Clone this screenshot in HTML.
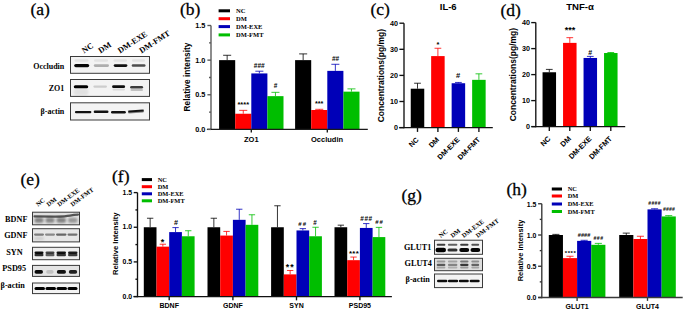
<!DOCTYPE html><html><head><meta charset="utf-8"><style>html,body{margin:0;padding:0;background:#fff;width:685px;height:311px;overflow:hidden}</style></head><body><svg width="685" height="311" viewBox="0 0 685 311" style="display:block">
<defs><filter id="bl" x="-20%" y="-50%" width="140%" height="200%"><feGaussianBlur stdDeviation="0.6"/></filter><filter id="bl2" x="-20%" y="-80%" width="140%" height="260%"><feGaussianBlur stdDeviation="1.0"/></filter></defs>
<rect width="685" height="311" fill="#fff"/>
<text x="30.5" y="15" font-size="17.5" font-family="Liberation Serif" text-anchor="start" stroke="#000" stroke-width="0.3">(a)</text>
<text x="180" y="15" font-size="17.5" font-family="Liberation Serif" text-anchor="start" stroke="#000" stroke-width="0.3">(b)</text>
<text x="370.5" y="15" font-size="17.5" font-family="Liberation Serif" text-anchor="start" stroke="#000" stroke-width="0.3">(c)</text>
<text x="500.5" y="15.5" font-size="17.5" font-family="Liberation Serif" text-anchor="start" stroke="#000" stroke-width="0.3">(d)</text>
<text x="20.5" y="185" font-size="17.5" font-family="Liberation Serif" text-anchor="start" stroke="#000" stroke-width="0.3">(e)</text>
<text x="112" y="182" font-size="17.5" font-family="Liberation Serif" text-anchor="start" stroke="#000" stroke-width="0.3">(f)</text>
<text x="401.5" y="201" font-size="17.5" font-family="Liberation Serif" text-anchor="start" stroke="#000" stroke-width="0.3">(g)</text>
<text x="506.5" y="195" font-size="17.5" font-family="Liberation Serif" text-anchor="start" stroke="#000" stroke-width="0.3">(h)</text>
<line x1="227.15" y1="55.28" x2="227.15" y2="60.13" stroke="#000000" stroke-width="0.8"/>
<line x1="223.12" y1="55.28" x2="231.18" y2="55.28" stroke="#000000" stroke-width="0.8"/>
<rect x="219.10" y="60.13" width="16.10" height="69.27" fill="#000000" />
<line x1="243.25" y1="110.35" x2="243.25" y2="113.74" stroke="#ff0000" stroke-width="0.8"/>
<line x1="239.22" y1="110.35" x2="247.28" y2="110.35" stroke="#ff0000" stroke-width="0.8"/>
<rect x="235.20" y="113.74" width="16.10" height="15.66" fill="#ff0000" />
<line x1="259.35" y1="71.21" x2="259.35" y2="73.43" stroke="#0000b8" stroke-width="0.8"/>
<line x1="255.33" y1="71.21" x2="263.38" y2="71.21" stroke="#0000b8" stroke-width="0.8"/>
<rect x="251.30" y="73.43" width="16.10" height="55.97" fill="#0000b8" />
<line x1="275.45" y1="92.34" x2="275.45" y2="96.15" stroke="#00be00" stroke-width="0.8"/>
<line x1="271.43" y1="92.34" x2="279.47" y2="92.34" stroke="#00be00" stroke-width="0.8"/>
<rect x="267.40" y="96.15" width="16.10" height="33.25" fill="#00be00" />
<line x1="303.15" y1="53.90" x2="303.15" y2="60.13" stroke="#000000" stroke-width="0.8"/>
<line x1="299.13" y1="53.90" x2="307.18" y2="53.90" stroke="#000000" stroke-width="0.8"/>
<rect x="295.10" y="60.13" width="16.10" height="69.27" fill="#000000" />
<line x1="319.25" y1="109.31" x2="319.25" y2="110.00" stroke="#ff0000" stroke-width="0.8"/>
<line x1="315.23" y1="109.31" x2="323.28" y2="109.31" stroke="#ff0000" stroke-width="0.8"/>
<rect x="311.20" y="110.00" width="16.10" height="19.40" fill="#ff0000" />
<line x1="335.35" y1="64.29" x2="335.35" y2="70.87" stroke="#0000b8" stroke-width="0.8"/>
<line x1="331.33" y1="64.29" x2="339.38" y2="64.29" stroke="#0000b8" stroke-width="0.8"/>
<rect x="327.30" y="70.87" width="16.10" height="58.53" fill="#0000b8" />
<line x1="351.45" y1="88.88" x2="351.45" y2="91.65" stroke="#00be00" stroke-width="0.8"/>
<line x1="347.43" y1="88.88" x2="355.48" y2="88.88" stroke="#00be00" stroke-width="0.8"/>
<rect x="343.40" y="91.65" width="16.10" height="37.75" fill="#00be00" />
<line x1="211.00" y1="25.50" x2="211.00" y2="130.08" stroke="#555" stroke-width="1.35"/>
<line x1="206.90" y1="129.40" x2="367.80" y2="129.40" stroke="#1a1a1a" stroke-width="1.35"/>
<line x1="207.40" y1="129.40" x2="211.00" y2="129.40" stroke="#555" stroke-width="1.35"/>
<text x="205.4" y="132.00" font-size="7.3" font-family="Liberation Sans" font-weight="bold" text-anchor="end" >0.0</text>
<line x1="207.40" y1="94.77" x2="211.00" y2="94.77" stroke="#555" stroke-width="1.35"/>
<text x="205.4" y="97.37" font-size="7.3" font-family="Liberation Sans" font-weight="bold" text-anchor="end" >0.5</text>
<line x1="207.40" y1="60.13" x2="211.00" y2="60.13" stroke="#555" stroke-width="1.35"/>
<text x="205.4" y="62.73" font-size="7.3" font-family="Liberation Sans" font-weight="bold" text-anchor="end" >1.0</text>
<line x1="207.40" y1="25.50" x2="211.00" y2="25.50" stroke="#555" stroke-width="1.35"/>
<text x="205.4" y="28.10" font-size="7.3" font-family="Liberation Sans" font-weight="bold" text-anchor="end" >1.5</text>
<line x1="209.02" y1="112.08" x2="211.00" y2="112.08" stroke="#555" stroke-width="1.35"/>
<line x1="209.02" y1="77.45" x2="211.00" y2="77.45" stroke="#555" stroke-width="1.35"/>
<line x1="209.02" y1="42.81" x2="211.00" y2="42.81" stroke="#555" stroke-width="1.35"/>
<line x1="251.30" y1="129.40" x2="251.30" y2="132.60" stroke="#1a1a1a" stroke-width="1.35"/>
<line x1="327.30" y1="129.40" x2="327.30" y2="132.60" stroke="#1a1a1a" stroke-width="1.35"/>
<text x="251.3" y="142" font-size="7.5" font-family="Liberation Sans" font-weight="bold" text-anchor="middle" >ZO1</text>
<text x="327.0" y="142" font-size="7.5" font-family="Liberation Sans" font-weight="bold" text-anchor="middle" >Occludin</text>
<text x="0" y="0" font-size="8.4" font-family="Liberation Sans" font-weight="bold" text-anchor="middle" transform="translate(189.5,77) rotate(-90)">Relative intensity</text>
<rect x="218.60" y="9.30" width="11.40" height="3.00" fill="#000000" />
<text x="236.1" y="13.10" font-size="6.5" font-family="Liberation Serif" font-weight="bold" text-anchor="start" >NC</text>
<rect x="218.60" y="17.20" width="11.40" height="3.00" fill="#ff0000" />
<text x="236.1" y="21.00" font-size="6.5" font-family="Liberation Serif" font-weight="bold" text-anchor="start" >DM</text>
<rect x="218.60" y="25.10" width="11.40" height="3.00" fill="#0000b8" />
<text x="236.1" y="28.90" font-size="6.5" font-family="Liberation Serif" font-weight="bold" text-anchor="start" >DM-EXE</text>
<rect x="218.60" y="33.40" width="11.40" height="3.00" fill="#00be00" />
<text x="236.1" y="37.20" font-size="6.5" font-family="Liberation Serif" font-weight="bold" text-anchor="start" >DM-FMT</text>
<text x="243.30" y="107.36" font-size="7.5" font-family="Liberation Sans" font-weight="bold" text-anchor="middle" >****</text>
<text x="259.30" y="67.50" font-size="6.5" font-family="Liberation Sans" font-weight="bold" text-anchor="middle" >###</text>
<text x="275.60" y="88.10" font-size="6.5" font-family="Liberation Sans" font-weight="bold" text-anchor="middle" >#</text>
<text x="319.20" y="105.61" font-size="7.2" font-family="Liberation Sans" font-weight="bold" text-anchor="middle" >***</text>
<text x="335.50" y="60.50" font-size="6.5" font-family="Liberation Sans" font-weight="bold" text-anchor="middle" >##</text>
<line x1="417.50" y1="83.23" x2="417.50" y2="88.71" stroke="#000000" stroke-width="0.8"/>
<line x1="414.12" y1="83.23" x2="420.88" y2="83.23" stroke="#000000" stroke-width="0.8"/>
<rect x="410.75" y="88.71" width="13.50" height="38.89" fill="#000000" />
<line x1="437.90" y1="48.26" x2="437.90" y2="56.09" stroke="#ff0000" stroke-width="0.8"/>
<line x1="434.52" y1="48.26" x2="441.27" y2="48.26" stroke="#ff0000" stroke-width="0.8"/>
<rect x="431.15" y="56.09" width="13.50" height="71.51" fill="#ff0000" />
<line x1="458.40" y1="82.45" x2="458.40" y2="83.23" stroke="#0000b8" stroke-width="0.8"/>
<line x1="455.02" y1="82.45" x2="461.77" y2="82.45" stroke="#0000b8" stroke-width="0.8"/>
<rect x="451.65" y="83.23" width="13.50" height="44.37" fill="#0000b8" />
<line x1="478.90" y1="73.83" x2="478.90" y2="79.84" stroke="#00be00" stroke-width="0.8"/>
<line x1="475.52" y1="73.83" x2="482.27" y2="73.83" stroke="#00be00" stroke-width="0.8"/>
<rect x="472.15" y="79.84" width="13.50" height="47.76" fill="#00be00" />
<line x1="404.00" y1="23.20" x2="404.00" y2="128.28" stroke="#111" stroke-width="1.35"/>
<line x1="399.20" y1="127.60" x2="492.80" y2="127.60" stroke="#111" stroke-width="1.35"/>
<line x1="399.40" y1="127.60" x2="404.00" y2="127.60" stroke="#111" stroke-width="1.35"/>
<text x="397.9" y="130.10" font-size="7.2" font-family="Liberation Sans" font-weight="bold" text-anchor="end" >0</text>
<line x1="399.40" y1="101.50" x2="404.00" y2="101.50" stroke="#111" stroke-width="1.35"/>
<text x="397.9" y="104.00" font-size="7.2" font-family="Liberation Sans" font-weight="bold" text-anchor="end" >10</text>
<line x1="399.40" y1="75.40" x2="404.00" y2="75.40" stroke="#111" stroke-width="1.35"/>
<text x="397.9" y="77.90" font-size="7.2" font-family="Liberation Sans" font-weight="bold" text-anchor="end" >20</text>
<line x1="399.40" y1="49.30" x2="404.00" y2="49.30" stroke="#111" stroke-width="1.35"/>
<text x="397.9" y="51.80" font-size="7.2" font-family="Liberation Sans" font-weight="bold" text-anchor="end" >30</text>
<line x1="399.40" y1="23.20" x2="404.00" y2="23.20" stroke="#111" stroke-width="1.35"/>
<text x="397.9" y="25.70" font-size="7.2" font-family="Liberation Sans" font-weight="bold" text-anchor="end" >40</text>
<line x1="417.50" y1="127.60" x2="417.50" y2="131.90" stroke="#111" stroke-width="1.35"/>
<line x1="437.90" y1="127.60" x2="437.90" y2="131.90" stroke="#111" stroke-width="1.35"/>
<line x1="458.40" y1="127.60" x2="458.40" y2="131.90" stroke="#111" stroke-width="1.35"/>
<line x1="478.90" y1="127.60" x2="478.90" y2="131.90" stroke="#111" stroke-width="1.35"/>
<text x="448.2" y="10.1" font-size="9.5" font-family="Liberation Sans" font-weight="bold" text-anchor="middle" >IL-6</text>
<text x="0" y="0" font-size="8.5" font-family="Liberation Sans" font-weight="bold" text-anchor="middle" transform="translate(383.8,75.6) rotate(-90)">Concentrations(pg/mg)</text>
<text x="0" y="0" font-size="7.2" font-family="Liberation Sans" font-weight="bold" text-anchor="end" transform="translate(419.2,140.2) rotate(-45)">NC</text>
<text x="0" y="0" font-size="7.2" font-family="Liberation Sans" font-weight="bold" text-anchor="end" transform="translate(439.59999999999997,140.2) rotate(-45)">DM</text>
<text x="0" y="0" font-size="7.2" font-family="Liberation Sans" font-weight="bold" text-anchor="end" transform="translate(460.09999999999997,140.2) rotate(-45)">DM-EXE</text>
<text x="0" y="0" font-size="7.2" font-family="Liberation Sans" font-weight="bold" text-anchor="end" transform="translate(480.59999999999997,140.2) rotate(-45)">DM-FMT</text>
<text x="438.00" y="46.97" font-size="7.5" font-family="Liberation Sans" font-weight="bold" text-anchor="middle" >*</text>
<text x="458.20" y="78.10" font-size="7.5" font-family="Liberation Sans" font-weight="bold" text-anchor="middle" >#</text>
<line x1="549.30" y1="69.40" x2="549.30" y2="72.26" stroke="#000000" stroke-width="0.8"/>
<line x1="545.92" y1="69.40" x2="552.67" y2="69.40" stroke="#000000" stroke-width="0.8"/>
<rect x="542.55" y="72.26" width="13.50" height="54.34" fill="#000000" />
<line x1="569.80" y1="37.68" x2="569.80" y2="42.88" stroke="#ff0000" stroke-width="0.8"/>
<line x1="566.42" y1="37.68" x2="573.17" y2="37.68" stroke="#ff0000" stroke-width="0.8"/>
<rect x="563.05" y="42.88" width="13.50" height="83.72" fill="#ff0000" />
<line x1="590.30" y1="56.40" x2="590.30" y2="57.96" stroke="#0000b8" stroke-width="0.8"/>
<line x1="586.92" y1="56.40" x2="593.67" y2="56.40" stroke="#0000b8" stroke-width="0.8"/>
<rect x="583.55" y="57.96" width="13.50" height="68.64" fill="#0000b8" />
<line x1="610.80" y1="52.50" x2="610.80" y2="53.02" stroke="#00be00" stroke-width="0.8"/>
<line x1="607.42" y1="52.50" x2="614.17" y2="52.50" stroke="#00be00" stroke-width="0.8"/>
<rect x="604.05" y="53.02" width="13.50" height="73.58" fill="#00be00" />
<line x1="535.80" y1="22.60" x2="535.80" y2="127.27" stroke="#111" stroke-width="1.35"/>
<line x1="531.60" y1="126.60" x2="625.20" y2="126.60" stroke="#111" stroke-width="1.35"/>
<line x1="531.20" y1="126.60" x2="535.80" y2="126.60" stroke="#111" stroke-width="1.35"/>
<text x="530.1" y="129.10" font-size="7.2" font-family="Liberation Sans" font-weight="bold" text-anchor="end" >0</text>
<line x1="531.20" y1="100.60" x2="535.80" y2="100.60" stroke="#111" stroke-width="1.35"/>
<text x="530.1" y="103.10" font-size="7.2" font-family="Liberation Sans" font-weight="bold" text-anchor="end" >10</text>
<line x1="531.20" y1="74.60" x2="535.80" y2="74.60" stroke="#111" stroke-width="1.35"/>
<text x="530.1" y="77.10" font-size="7.2" font-family="Liberation Sans" font-weight="bold" text-anchor="end" >20</text>
<line x1="531.20" y1="48.60" x2="535.80" y2="48.60" stroke="#111" stroke-width="1.35"/>
<text x="530.1" y="51.10" font-size="7.2" font-family="Liberation Sans" font-weight="bold" text-anchor="end" >30</text>
<line x1="531.20" y1="22.60" x2="535.80" y2="22.60" stroke="#111" stroke-width="1.35"/>
<text x="530.1" y="25.10" font-size="7.2" font-family="Liberation Sans" font-weight="bold" text-anchor="end" >40</text>
<line x1="549.30" y1="126.60" x2="549.30" y2="130.90" stroke="#111" stroke-width="1.35"/>
<line x1="569.80" y1="126.60" x2="569.80" y2="130.90" stroke="#111" stroke-width="1.35"/>
<line x1="590.30" y1="126.60" x2="590.30" y2="130.90" stroke="#111" stroke-width="1.35"/>
<line x1="610.80" y1="126.60" x2="610.80" y2="130.90" stroke="#111" stroke-width="1.35"/>
<text x="580" y="10.1" font-size="9.6" font-family="Liberation Sans" font-weight="bold" text-anchor="middle" >TNF-α</text>
<text x="0" y="0" font-size="8.5" font-family="Liberation Sans" font-weight="bold" text-anchor="middle" transform="translate(515.5,74.6) rotate(-90)">Concentrations(pg/mg)</text>
<text x="0" y="0" font-size="7.4" font-family="Liberation Sans" font-weight="bold" text-anchor="end" transform="translate(551.0,139.2) rotate(-45)">NC</text>
<text x="0" y="0" font-size="7.4" font-family="Liberation Sans" font-weight="bold" text-anchor="end" transform="translate(571.5,139.2) rotate(-45)">DM</text>
<text x="0" y="0" font-size="7.4" font-family="Liberation Sans" font-weight="bold" text-anchor="end" transform="translate(592.0,139.2) rotate(-45)">DM-EXE</text>
<text x="0" y="0" font-size="7.4" font-family="Liberation Sans" font-weight="bold" text-anchor="end" transform="translate(612.5,139.2) rotate(-45)">DM-FMT</text>
<text x="570.00" y="33.02" font-size="9" font-family="Liberation Sans" font-weight="bold" text-anchor="middle" >***</text>
<text x="590.20" y="54.80" font-size="7" font-family="Liberation Sans" font-weight="bold" text-anchor="middle" >#</text>
<line x1="150.15" y1="218.24" x2="150.15" y2="227.25" stroke="#000000" stroke-width="0.8"/>
<line x1="146.97" y1="218.24" x2="153.33" y2="218.24" stroke="#000000" stroke-width="0.8"/>
<rect x="143.80" y="227.25" width="12.70" height="69.30" fill="#000000" />
<line x1="162.85" y1="244.23" x2="162.85" y2="246.65" stroke="#ff0000" stroke-width="0.8"/>
<line x1="159.67" y1="244.23" x2="166.03" y2="244.23" stroke="#ff0000" stroke-width="0.8"/>
<rect x="156.50" y="246.65" width="12.70" height="49.90" fill="#ff0000" />
<line x1="175.55" y1="227.60" x2="175.55" y2="232.10" stroke="#0000b8" stroke-width="0.8"/>
<line x1="172.38" y1="227.60" x2="178.73" y2="227.60" stroke="#0000b8" stroke-width="0.8"/>
<rect x="169.20" y="232.10" width="12.70" height="64.45" fill="#0000b8" />
<line x1="188.25" y1="230.72" x2="188.25" y2="236.26" stroke="#00be00" stroke-width="0.8"/>
<line x1="185.07" y1="230.72" x2="191.43" y2="230.72" stroke="#00be00" stroke-width="0.8"/>
<rect x="181.90" y="236.26" width="12.70" height="60.29" fill="#00be00" />
<line x1="213.85" y1="218.24" x2="213.85" y2="227.25" stroke="#000000" stroke-width="0.8"/>
<line x1="210.67" y1="218.24" x2="217.03" y2="218.24" stroke="#000000" stroke-width="0.8"/>
<rect x="207.50" y="227.25" width="12.70" height="69.30" fill="#000000" />
<line x1="226.55" y1="231.41" x2="226.55" y2="235.57" stroke="#ff0000" stroke-width="0.8"/>
<line x1="223.37" y1="231.41" x2="229.72" y2="231.41" stroke="#ff0000" stroke-width="0.8"/>
<rect x="220.20" y="235.57" width="12.70" height="60.98" fill="#ff0000" />
<line x1="239.25" y1="209.23" x2="239.25" y2="219.83" stroke="#0000b8" stroke-width="0.8"/>
<line x1="236.07" y1="209.23" x2="242.43" y2="209.23" stroke="#0000b8" stroke-width="0.8"/>
<rect x="232.90" y="219.83" width="12.70" height="76.72" fill="#0000b8" />
<line x1="251.95" y1="214.78" x2="251.95" y2="224.82" stroke="#00be00" stroke-width="0.8"/>
<line x1="248.77" y1="214.78" x2="255.12" y2="214.78" stroke="#00be00" stroke-width="0.8"/>
<rect x="245.60" y="224.82" width="12.70" height="71.73" fill="#00be00" />
<line x1="277.45" y1="205.77" x2="277.45" y2="227.25" stroke="#000000" stroke-width="0.8"/>
<line x1="274.28" y1="205.77" x2="280.63" y2="205.77" stroke="#000000" stroke-width="0.8"/>
<rect x="271.10" y="227.25" width="12.70" height="69.30" fill="#000000" />
<line x1="290.15" y1="270.49" x2="290.15" y2="274.37" stroke="#ff0000" stroke-width="0.8"/>
<line x1="286.98" y1="270.49" x2="293.33" y2="270.49" stroke="#ff0000" stroke-width="0.8"/>
<rect x="283.80" y="274.37" width="12.70" height="22.18" fill="#ff0000" />
<line x1="302.85" y1="228.64" x2="302.85" y2="230.44" stroke="#0000b8" stroke-width="0.8"/>
<line x1="299.68" y1="228.64" x2="306.03" y2="228.64" stroke="#0000b8" stroke-width="0.8"/>
<rect x="296.50" y="230.44" width="12.70" height="66.11" fill="#0000b8" />
<line x1="315.55" y1="227.25" x2="315.55" y2="236.26" stroke="#00be00" stroke-width="0.8"/>
<line x1="312.38" y1="227.25" x2="318.73" y2="227.25" stroke="#00be00" stroke-width="0.8"/>
<rect x="309.20" y="236.26" width="12.70" height="60.29" fill="#00be00" />
<line x1="340.85" y1="225.17" x2="340.85" y2="227.25" stroke="#000000" stroke-width="0.8"/>
<line x1="337.68" y1="225.17" x2="344.03" y2="225.17" stroke="#000000" stroke-width="0.8"/>
<rect x="334.50" y="227.25" width="12.70" height="69.30" fill="#000000" />
<line x1="353.55" y1="257.05" x2="353.55" y2="260.17" stroke="#ff0000" stroke-width="0.8"/>
<line x1="350.38" y1="257.05" x2="356.73" y2="257.05" stroke="#ff0000" stroke-width="0.8"/>
<rect x="347.20" y="260.17" width="12.70" height="36.38" fill="#ff0000" />
<line x1="366.25" y1="223.58" x2="366.25" y2="227.94" stroke="#0000b8" stroke-width="0.8"/>
<line x1="363.07" y1="223.58" x2="369.43" y2="223.58" stroke="#0000b8" stroke-width="0.8"/>
<rect x="359.90" y="227.94" width="12.70" height="68.61" fill="#0000b8" />
<line x1="378.95" y1="227.39" x2="378.95" y2="237.09" stroke="#00be00" stroke-width="0.8"/>
<line x1="375.78" y1="227.39" x2="382.13" y2="227.39" stroke="#00be00" stroke-width="0.8"/>
<rect x="372.60" y="237.09" width="12.70" height="59.46" fill="#00be00" />
<line x1="137.50" y1="192.60" x2="137.50" y2="297.23" stroke="#111" stroke-width="1.35"/>
<line x1="133.50" y1="296.55" x2="391.90" y2="296.55" stroke="#111" stroke-width="1.35"/>
<line x1="133.70" y1="296.55" x2="137.50" y2="296.55" stroke="#111" stroke-width="1.35"/>
<text x="132.2" y="298.75" font-size="6.9" font-family="Liberation Sans" font-weight="bold" text-anchor="end" >0.0</text>
<line x1="133.70" y1="261.90" x2="137.50" y2="261.90" stroke="#111" stroke-width="1.35"/>
<text x="132.2" y="264.10" font-size="6.9" font-family="Liberation Sans" font-weight="bold" text-anchor="end" >0.5</text>
<line x1="133.70" y1="227.25" x2="137.50" y2="227.25" stroke="#111" stroke-width="1.35"/>
<text x="132.2" y="229.45" font-size="6.9" font-family="Liberation Sans" font-weight="bold" text-anchor="end" >1.0</text>
<line x1="133.70" y1="192.60" x2="137.50" y2="192.60" stroke="#111" stroke-width="1.35"/>
<text x="132.2" y="194.80" font-size="6.9" font-family="Liberation Sans" font-weight="bold" text-anchor="end" >1.5</text>
<line x1="135.41" y1="279.23" x2="137.50" y2="279.23" stroke="#111" stroke-width="1.35"/>
<line x1="135.41" y1="244.58" x2="137.50" y2="244.58" stroke="#111" stroke-width="1.35"/>
<line x1="135.41" y1="209.93" x2="137.50" y2="209.93" stroke="#111" stroke-width="1.35"/>
<line x1="169.20" y1="296.55" x2="169.20" y2="300.35" stroke="#111" stroke-width="1.35"/>
<line x1="232.90" y1="296.55" x2="232.90" y2="300.35" stroke="#111" stroke-width="1.35"/>
<line x1="296.50" y1="296.55" x2="296.50" y2="300.35" stroke="#111" stroke-width="1.35"/>
<line x1="359.90" y1="296.55" x2="359.90" y2="300.35" stroke="#111" stroke-width="1.35"/>
<text x="169.20000000000002" y="308.2" font-size="7" font-family="Liberation Sans" font-weight="bold" text-anchor="middle" >BDNF</text>
<text x="232.9" y="308.2" font-size="7" font-family="Liberation Sans" font-weight="bold" text-anchor="middle" >GDNF</text>
<text x="296.5" y="308.2" font-size="7" font-family="Liberation Sans" font-weight="bold" text-anchor="middle" >SYN</text>
<text x="359.9" y="308.2" font-size="7" font-family="Liberation Sans" font-weight="bold" text-anchor="middle" >PSD95</text>
<text x="0" y="0" font-size="7.6" font-family="Liberation Sans" font-weight="bold" text-anchor="middle" transform="translate(117.6,243.7) rotate(-90)">Relative Intensity</text>
<rect x="141.80" y="178.10" width="10.20" height="3.00" fill="#000000" />
<text x="157.7" y="181.80" font-size="6.4" font-family="Liberation Serif" font-weight="bold" text-anchor="start" >NC</text>
<rect x="141.80" y="185.20" width="10.20" height="3.00" fill="#ff0000" />
<text x="157.7" y="188.90" font-size="6.4" font-family="Liberation Serif" font-weight="bold" text-anchor="start" >DM</text>
<rect x="141.80" y="192.30" width="10.20" height="3.00" fill="#0000b8" />
<text x="157.7" y="196.00" font-size="6.4" font-family="Liberation Serif" font-weight="bold" text-anchor="start" >DM-EXE</text>
<rect x="141.80" y="199.30" width="10.20" height="3.00" fill="#00be00" />
<text x="157.7" y="203.00" font-size="6.4" font-family="Liberation Serif" font-weight="bold" text-anchor="start" >DM-FMT</text>
<text x="162.60" y="244.62" font-size="9" font-family="Liberation Sans" font-weight="bold" text-anchor="middle" >*</text>
<text x="175.90" y="225.20" font-size="7.2" font-family="Liberation Sans" font-weight="bold" text-anchor="middle" >#</text>
<text x="290.20" y="270.32" font-size="8.8" font-family="Liberation Sans" font-weight="bold" text-anchor="middle" letter-spacing="1.0">**</text>
<text x="302.80" y="225.60" font-size="6" font-family="Liberation Sans" font-weight="bold" text-anchor="middle" letter-spacing="1.2">##</text>
<text x="315.00" y="224.70" font-size="6.3" font-family="Liberation Sans" font-weight="bold" text-anchor="middle" >#</text>
<text x="354.05" y="255.52" font-size="7.8" font-family="Liberation Sans" font-weight="bold" text-anchor="middle" letter-spacing="0.3">***</text>
<text x="366.45" y="220.50" font-size="6.5" font-family="Liberation Sans" font-weight="bold" text-anchor="middle" letter-spacing="0.5">###</text>
<text x="379.50" y="224.10" font-size="6" font-family="Liberation Sans" font-weight="bold" text-anchor="middle" letter-spacing="1.0">##</text>
<line x1="555.88" y1="234.38" x2="555.88" y2="235.00" stroke="#000000" stroke-width="0.8"/>
<line x1="552.34" y1="234.38" x2="559.41" y2="234.38" stroke="#000000" stroke-width="0.8"/>
<rect x="548.80" y="235.00" width="14.15" height="62.50" fill="#000000" />
<line x1="570.02" y1="256.25" x2="570.02" y2="258.12" stroke="#ff0000" stroke-width="0.8"/>
<line x1="566.49" y1="256.25" x2="573.56" y2="256.25" stroke="#ff0000" stroke-width="0.8"/>
<rect x="562.95" y="258.12" width="14.15" height="39.38" fill="#ff0000" />
<line x1="584.17" y1="240.31" x2="584.17" y2="240.88" stroke="#0000b8" stroke-width="0.8"/>
<line x1="580.64" y1="240.31" x2="587.71" y2="240.31" stroke="#0000b8" stroke-width="0.8"/>
<rect x="577.10" y="240.88" width="14.15" height="56.62" fill="#0000b8" />
<line x1="598.33" y1="243.38" x2="598.33" y2="244.81" stroke="#00be00" stroke-width="0.8"/>
<line x1="594.79" y1="243.38" x2="601.86" y2="243.38" stroke="#00be00" stroke-width="0.8"/>
<rect x="591.25" y="244.81" width="14.15" height="52.69" fill="#00be00" />
<line x1="626.28" y1="233.12" x2="626.28" y2="235.00" stroke="#000000" stroke-width="0.8"/>
<line x1="622.74" y1="233.12" x2="629.81" y2="233.12" stroke="#000000" stroke-width="0.8"/>
<rect x="619.20" y="235.00" width="14.15" height="62.50" fill="#000000" />
<line x1="640.43" y1="236.25" x2="640.43" y2="239.00" stroke="#ff0000" stroke-width="0.8"/>
<line x1="636.89" y1="236.25" x2="643.96" y2="236.25" stroke="#ff0000" stroke-width="0.8"/>
<rect x="633.35" y="239.00" width="14.15" height="58.50" fill="#ff0000" />
<line x1="654.58" y1="208.75" x2="654.58" y2="209.38" stroke="#0000b8" stroke-width="0.8"/>
<line x1="651.04" y1="208.75" x2="658.11" y2="208.75" stroke="#0000b8" stroke-width="0.8"/>
<rect x="647.50" y="209.38" width="14.15" height="88.12" fill="#0000b8" />
<line x1="668.73" y1="215.62" x2="668.73" y2="216.44" stroke="#00be00" stroke-width="0.8"/>
<line x1="665.19" y1="215.62" x2="672.26" y2="215.62" stroke="#00be00" stroke-width="0.8"/>
<rect x="661.65" y="216.44" width="14.15" height="81.06" fill="#00be00" />
<line x1="541.80" y1="203.75" x2="541.80" y2="298.18" stroke="#333" stroke-width="1.35"/>
<line x1="538.20" y1="297.50" x2="682.70" y2="297.50" stroke="#3a3a3a" stroke-width="1.35"/>
<line x1="538.10" y1="297.50" x2="541.80" y2="297.50" stroke="#333" stroke-width="1.35"/>
<text x="536.4" y="300.30" font-size="6.9" font-family="Liberation Sans" font-weight="bold" text-anchor="end" >0.0</text>
<line x1="538.10" y1="266.25" x2="541.80" y2="266.25" stroke="#333" stroke-width="1.35"/>
<text x="536.4" y="269.05" font-size="6.9" font-family="Liberation Sans" font-weight="bold" text-anchor="end" >0.5</text>
<line x1="538.10" y1="235.00" x2="541.80" y2="235.00" stroke="#333" stroke-width="1.35"/>
<text x="536.4" y="237.80" font-size="6.9" font-family="Liberation Sans" font-weight="bold" text-anchor="end" >1.0</text>
<line x1="538.10" y1="203.75" x2="541.80" y2="203.75" stroke="#333" stroke-width="1.35"/>
<text x="536.4" y="206.55" font-size="6.9" font-family="Liberation Sans" font-weight="bold" text-anchor="end" >1.5</text>
<line x1="539.76" y1="281.88" x2="541.80" y2="281.88" stroke="#333" stroke-width="1.35"/>
<line x1="539.76" y1="250.62" x2="541.80" y2="250.62" stroke="#333" stroke-width="1.35"/>
<line x1="539.76" y1="219.38" x2="541.80" y2="219.38" stroke="#333" stroke-width="1.35"/>
<line x1="577.10" y1="297.50" x2="577.10" y2="300.90" stroke="#3a3a3a" stroke-width="1.35"/>
<line x1="647.50" y1="297.50" x2="647.50" y2="300.90" stroke="#3a3a3a" stroke-width="1.35"/>
<text x="577.0999999999999" y="308.8" font-size="7" font-family="Liberation Sans" font-weight="bold" text-anchor="middle" >GLUT1</text>
<text x="647.5" y="308.8" font-size="7" font-family="Liberation Sans" font-weight="bold" text-anchor="middle" >GLUT4</text>
<text x="0" y="0" font-size="7.5" font-family="Liberation Sans" font-weight="bold" text-anchor="middle" transform="translate(522.6,250.5) rotate(-90)">Relative intensity</text>
<rect x="551.80" y="187.50" width="10.20" height="3.00" fill="#000000" />
<text x="567.7" y="191.20" font-size="6.4" font-family="Liberation Serif" font-weight="bold" text-anchor="start" >NC</text>
<rect x="551.80" y="194.50" width="10.20" height="3.00" fill="#ff0000" />
<text x="567.7" y="198.20" font-size="6.4" font-family="Liberation Serif" font-weight="bold" text-anchor="start" >DM</text>
<rect x="551.80" y="202.50" width="10.20" height="3.00" fill="#0000b8" />
<text x="567.7" y="206.20" font-size="6.4" font-family="Liberation Serif" font-weight="bold" text-anchor="start" >DM-EXE</text>
<rect x="551.80" y="210.00" width="10.20" height="3.00" fill="#00be00" />
<text x="567.7" y="213.70" font-size="6.4" font-family="Liberation Serif" font-weight="bold" text-anchor="start" >DM-FMT</text>
<text x="570.60" y="254.91" font-size="6" font-family="Liberation Sans" font-weight="bold" text-anchor="middle" letter-spacing="0.6">****</text>
<text x="584.10" y="236.50" font-size="5.6" font-family="Liberation Sans" font-weight="bold" text-anchor="middle" >####</text>
<text x="598.50" y="240.20" font-size="5.2" font-family="Liberation Sans" font-weight="bold" text-anchor="middle" letter-spacing="0.4">###</text>
<text x="654.60" y="204.80" font-size="5" font-family="Liberation Sans" font-weight="bold" text-anchor="middle" letter-spacing="0.4">####</text>
<text x="669.10" y="210.90" font-size="5.1" font-family="Liberation Sans" font-weight="bold" text-anchor="middle" letter-spacing="0.2">####</text>
<text x="0" y="0" font-size="8.2" font-family="Liberation Serif" font-weight="bold" text-anchor="start" transform="translate(84.1,53.5) rotate(-33)">NC</text>
<text x="0" y="0" font-size="8.2" font-family="Liberation Serif" font-weight="bold" text-anchor="start" transform="translate(100.6,53.5) rotate(-33)">DM</text>
<text x="0" y="0" font-size="8.2" font-family="Liberation Serif" font-weight="bold" text-anchor="start" transform="translate(120.1,53.5) rotate(-33)">DM-EXE</text>
<text x="0" y="0" font-size="8.2" font-family="Liberation Serif" font-weight="bold" text-anchor="start" transform="translate(141.6,53.5) rotate(-33)">DM-FMT</text>
<text x="64.3" y="68.5" font-size="8" font-family="Liberation Serif" font-weight="bold" text-anchor="end" >Occludin</text>
<text x="64.3" y="91" font-size="8" font-family="Liberation Serif" font-weight="bold" text-anchor="end" >ZO1</text>
<text x="64.3" y="114" font-size="8" font-family="Liberation Serif" font-weight="bold" text-anchor="end" >β-actin</text>
<rect x="70.50" y="56.50" width="79.00" height="16.80" fill="#f3f3f3" stroke="#3a3a3a" stroke-width="1"/>
<rect x="74.20" y="64.00" width="15.00" height="3.20" rx="1.60" fill="#000" opacity="0.97" filter="url(#bl)"/>
<rect x="93.80" y="64.30" width="15.20" height="2.60" rx="1.30" fill="#000" opacity="0.28" filter="url(#bl)"/>
<rect x="113.70" y="64.15" width="13.70" height="2.90" rx="1.45" fill="#000" opacity="0.92" filter="url(#bl)"/>
<rect x="131.70" y="64.35" width="13.80" height="2.50" rx="1.25" fill="#000" opacity="0.68" filter="url(#bl)"/>
<rect x="74.50" y="59.30" width="14.00" height="2.40" rx="1.20" fill="#000" opacity="0.06" filter="url(#bl)"/>
<rect x="94.00" y="59.30" width="14.00" height="2.40" rx="1.20" fill="#000" opacity="0.06" filter="url(#bl)"/>
<rect x="113.50" y="59.30" width="13.50" height="2.40" rx="1.20" fill="#000" opacity="0.06" filter="url(#bl)"/>
<rect x="132.00" y="59.30" width="13.00" height="2.40" rx="1.20" fill="#000" opacity="0.06" filter="url(#bl)"/>
<rect x="70.50" y="79.50" width="79.00" height="16.90" fill="#f3f3f3" stroke="#3a3a3a" stroke-width="1"/>
<rect x="73.80" y="85.20" width="14.40" height="3.00" rx="1.50" fill="#000" opacity="1.0" filter="url(#bl)"/>
<rect x="93.30" y="85.50" width="13.70" height="2.20" rx="1.10" fill="#000" opacity="0.15" filter="url(#bl)"/>
<rect x="112.10" y="85.30" width="13.00" height="2.80" rx="1.40" fill="#000" opacity="0.95" filter="url(#bl)"/>
<rect x="130.10" y="86.00" width="13.00" height="2.60" rx="1.30" fill="#000" opacity="0.75" filter="url(#bl)"/>
<rect x="73.50" y="88.50" width="15.00" height="7.00" rx="3.50" fill="#000" opacity="0.07" filter="url(#bl2)"/>
<rect x="130.50" y="88.90" width="12.50" height="2.00" rx="1.00" fill="#000" opacity="0.2" filter="url(#bl)"/>
<rect x="112.50" y="88.60" width="12.50" height="2.00" rx="1.00" fill="#000" opacity="0.1" filter="url(#bl)"/>
<rect x="70.50" y="102.80" width="79.00" height="17.20" fill="#f3f3f3" stroke="#3a3a3a" stroke-width="1"/>
<rect x="74.90" y="110.90" width="16.50" height="2.40" rx="1.20" fill="#000" opacity="0.92" filter="url(#bl)"/>
<rect x="93.70" y="110.50" width="14.80" height="2.40" rx="1.20" fill="#000" opacity="0.92" filter="url(#bl)"/>
<rect x="111.00" y="111.00" width="14.80" height="2.40" rx="1.20" fill="#000" opacity="0.92" filter="url(#bl)"/>
<rect x="128.00" y="110.10" width="15.90" height="2.40" rx="1.20" fill="#000" opacity="0.92" filter="url(#bl)" transform="rotate(-4 135.95 111.30)"/>
<text x="0" y="0" font-size="6.4" font-family="Liberation Serif" font-weight="bold" text-anchor="start" transform="translate(37.9,206.8) rotate(-37)">NC</text>
<text x="0" y="0" font-size="6.4" font-family="Liberation Serif" font-weight="bold" text-anchor="start" transform="translate(48.5,206.8) rotate(-37)">DM</text>
<text x="0" y="0" font-size="6.4" font-family="Liberation Serif" font-weight="bold" text-anchor="start" transform="translate(59.3,206.8) rotate(-37)">DM-EXE</text>
<text x="0" y="0" font-size="6.4" font-family="Liberation Serif" font-weight="bold" text-anchor="start" transform="translate(72.5,206.8) rotate(-37)">DM-FMT</text>
<text x="27.4" y="222.2" font-size="8.2" font-family="Liberation Serif" font-weight="bold" text-anchor="end" >BDNF</text>
<text x="27.4" y="238.1" font-size="8.2" font-family="Liberation Serif" font-weight="bold" text-anchor="end" >GDNF</text>
<text x="22.7" y="255.4" font-size="8.2" font-family="Liberation Serif" font-weight="bold" text-anchor="end" >SYN</text>
<text x="26" y="270.6" font-size="8.2" font-family="Liberation Serif" font-weight="bold" text-anchor="end" >PSD95</text>
<text x="24.9" y="287.6" font-size="8.2" font-family="Liberation Serif" font-weight="bold" text-anchor="end" >β-actin</text>
<rect x="32.50" y="212.20" width="47.00" height="12.60" fill="#e0e0e0" stroke="#3a3a3a" stroke-width="1"/>
<path d="M34.5 216.4 L55 216.6 Q66 216.4 70 215.6 T78 214.6" stroke="#000" stroke-width="2.2" stroke-linecap="round" fill="none" opacity="0.62" filter="url(#bl)"/>
<rect x="34.50" y="217.70" width="9.00" height="5.00" rx="2.50" fill="#000" opacity="0.42" filter="url(#bl2)"/>
<rect x="45.50" y="217.70" width="9.00" height="5.00" rx="2.50" fill="#000" opacity="0.4" filter="url(#bl2)"/>
<rect x="56.50" y="217.70" width="9.50" height="5.00" rx="2.50" fill="#000" opacity="0.42" filter="url(#bl2)"/>
<rect x="68.00" y="217.70" width="9.50" height="5.00" rx="2.50" fill="#000" opacity="0.32" filter="url(#bl2)"/>
<rect x="32.50" y="228.70" width="47.00" height="13.20" fill="#e6e6e6" stroke="#3a3a3a" stroke-width="1"/>
<rect x="34.00" y="233.50" width="10.00" height="2.20" rx="1.10" fill="#000" opacity="0.45" filter="url(#bl)"/>
<rect x="45.00" y="233.50" width="10.00" height="2.20" rx="1.10" fill="#000" opacity="0.4" filter="url(#bl)"/>
<rect x="56.00" y="233.50" width="10.50" height="2.20" rx="1.10" fill="#000" opacity="0.55" filter="url(#bl)"/>
<rect x="67.50" y="233.50" width="10.00" height="2.20" rx="1.10" fill="#000" opacity="0.5" filter="url(#bl)"/>
<rect x="34.00" y="237.00" width="10.00" height="3.00" rx="1.50" fill="#000" opacity="0.1" filter="url(#bl2)"/>
<rect x="32.50" y="247.30" width="47.00" height="12.40" fill="#eeeeee" stroke="#3a3a3a" stroke-width="1"/>
<rect x="34.50" y="251.50" width="9.00" height="2.60" rx="1.30" fill="#000" opacity="0.95" filter="url(#bl)"/>
<rect x="34.50" y="253.85" width="9.00" height="2.50" rx="1.25" fill="#000" opacity="0.8075" filter="url(#bl)"/>
<rect x="45.50" y="251.50" width="9.00" height="2.60" rx="1.30" fill="#000" opacity="0.72" filter="url(#bl)"/>
<rect x="45.50" y="253.85" width="9.00" height="2.50" rx="1.25" fill="#000" opacity="0.612" filter="url(#bl)"/>
<rect x="56.50" y="251.50" width="9.50" height="2.60" rx="1.30" fill="#000" opacity="0.92" filter="url(#bl)"/>
<rect x="56.50" y="253.85" width="9.50" height="2.50" rx="1.25" fill="#000" opacity="0.782" filter="url(#bl)"/>
<rect x="68.00" y="251.50" width="9.50" height="2.60" rx="1.30" fill="#000" opacity="0.88" filter="url(#bl)"/>
<rect x="68.00" y="253.85" width="9.50" height="2.50" rx="1.25" fill="#000" opacity="0.748" filter="url(#bl)"/>
<rect x="32.50" y="265.40" width="47.00" height="11.00" fill="#e4e4e4" stroke="#3a3a3a" stroke-width="1"/>
<rect x="34.50" y="270.10" width="8.50" height="3.60" rx="1.80" fill="#000" opacity="0.95" filter="url(#bl)"/>
<rect x="46.20" y="270.10" width="7.40" height="3.60" rx="1.80" fill="#000" opacity="0.15" filter="url(#bl)"/>
<rect x="56.80" y="270.10" width="9.20" height="3.60" rx="1.80" fill="#000" opacity="0.92" filter="url(#bl)"/>
<rect x="68.80" y="270.10" width="8.40" height="3.60" rx="1.80" fill="#000" opacity="0.85" filter="url(#bl)"/>
<rect x="32.50" y="283.00" width="47.00" height="10.60" fill="#f3f3f3" stroke="#3a3a3a" stroke-width="1"/>
<rect x="34.50" y="286.90" width="10.50" height="3.00" rx="1.50" fill="#000" opacity="1.0" filter="url(#bl)"/>
<rect x="45.50" y="286.90" width="10.50" height="3.00" rx="1.50" fill="#000" opacity="1.0" filter="url(#bl)"/>
<rect x="56.50" y="286.90" width="10.50" height="3.00" rx="1.50" fill="#000" opacity="1.0" filter="url(#bl)"/>
<rect x="67.50" y="286.90" width="10.00" height="3.00" rx="1.50" fill="#000" opacity="1.0" filter="url(#bl)"/>
<text x="0" y="0" font-size="6.4" font-family="Liberation Serif" font-weight="bold" text-anchor="start" transform="translate(440.8,238.0) rotate(-37)">NC</text>
<text x="0" y="0" font-size="6.4" font-family="Liberation Serif" font-weight="bold" text-anchor="start" transform="translate(452.4,238.0) rotate(-37)">DM</text>
<text x="0" y="0" font-size="6.4" font-family="Liberation Serif" font-weight="bold" text-anchor="start" transform="translate(463.8,238.0) rotate(-37)">DM-EXE</text>
<text x="0" y="0" font-size="6.4" font-family="Liberation Serif" font-weight="bold" text-anchor="start" transform="translate(477.8,238.0) rotate(-37)">DM-FMT</text>
<text x="431.3" y="249.5" font-size="8.2" font-family="Liberation Serif" font-weight="bold" text-anchor="end" >GLUT1</text>
<text x="431.9" y="266.3" font-size="8.2" font-family="Liberation Serif" font-weight="bold" text-anchor="end" >GLUT4</text>
<text x="429.9" y="281.7" font-size="8.2" font-family="Liberation Serif" font-weight="bold" text-anchor="end" >β-actin</text>
<rect x="434.50" y="240.20" width="48.00" height="14.10" fill="#f3f3f3" stroke="#3a3a3a" stroke-width="1"/>
<rect x="436.70" y="243.70" width="8.70" height="2.00" rx="1.00" fill="#000" opacity="0.75" filter="url(#bl)"/>
<rect x="447.90" y="243.70" width="9.50" height="2.00" rx="1.00" fill="#000" opacity="0.6" filter="url(#bl)"/>
<rect x="460.10" y="243.70" width="8.40" height="2.00" rx="1.00" fill="#000" opacity="0.75" filter="url(#bl)"/>
<rect x="471.30" y="243.70" width="7.90" height="2.00" rx="1.00" fill="#000" opacity="0.65" filter="url(#bl)"/>
<rect x="435.50" y="247.80" width="10.50" height="4.40" rx="2.20" fill="#000" opacity="1.0" filter="url(#bl)"/>
<rect x="447.50" y="248.50" width="10.00" height="3.00" rx="1.50" fill="#000" opacity="0.8" filter="url(#bl)"/>
<rect x="459.30" y="247.90" width="9.90" height="4.20" rx="2.10" fill="#000" opacity="0.97" filter="url(#bl)"/>
<rect x="470.50" y="247.90" width="9.70" height="4.20" rx="2.10" fill="#000" opacity="0.97" filter="url(#bl)"/>
<rect x="434.50" y="258.30" width="48.00" height="12.40" fill="#dddddd" stroke="#3a3a3a" stroke-width="1"/>
<rect x="436.70" y="260.40" width="8.70" height="2.00" rx="1.00" fill="#000" opacity="0.3" filter="url(#bl)"/>
<rect x="447.90" y="260.40" width="9.50" height="2.00" rx="1.00" fill="#000" opacity="0.25" filter="url(#bl)"/>
<rect x="460.10" y="260.40" width="8.40" height="2.00" rx="1.00" fill="#000" opacity="0.45" filter="url(#bl)"/>
<rect x="471.30" y="260.40" width="7.90" height="2.00" rx="1.00" fill="#000" opacity="0.35" filter="url(#bl)"/>
<rect x="436.70" y="263.80" width="8.70" height="2.20" rx="1.10" fill="#000" opacity="0.6" filter="url(#bl)"/>
<rect x="447.90" y="263.80" width="9.50" height="2.20" rx="1.10" fill="#000" opacity="0.4" filter="url(#bl)"/>
<rect x="460.10" y="263.80" width="8.40" height="2.20" rx="1.10" fill="#000" opacity="0.75" filter="url(#bl)"/>
<rect x="471.30" y="263.80" width="7.90" height="2.20" rx="1.10" fill="#000" opacity="0.55" filter="url(#bl)"/>
<rect x="436.70" y="266.50" width="8.70" height="2.00" rx="1.00" fill="#000" opacity="0.25" filter="url(#bl)"/>
<rect x="447.90" y="266.50" width="9.50" height="2.00" rx="1.00" fill="#000" opacity="0.2" filter="url(#bl)"/>
<rect x="460.10" y="266.50" width="8.40" height="2.00" rx="1.00" fill="#000" opacity="0.3" filter="url(#bl)"/>
<rect x="471.30" y="266.50" width="7.90" height="2.00" rx="1.00" fill="#000" opacity="0.25" filter="url(#bl)"/>
<rect x="434.50" y="274.00" width="48.00" height="13.60" fill="#f3f3f3" stroke="#3a3a3a" stroke-width="1"/>
<rect x="437.00" y="279.70" width="10.40" height="2.60" rx="1.30" fill="#000" opacity="0.95" filter="url(#bl)"/>
<rect x="447.90" y="279.70" width="10.30" height="2.60" rx="1.30" fill="#000" opacity="0.95" filter="url(#bl)"/>
<rect x="458.80" y="279.70" width="10.00" height="2.60" rx="1.30" fill="#000" opacity="0.95" filter="url(#bl)"/>
<rect x="469.60" y="279.70" width="10.10" height="2.60" rx="1.30" fill="#000" opacity="0.95" filter="url(#bl)"/>
</svg></body></html>
